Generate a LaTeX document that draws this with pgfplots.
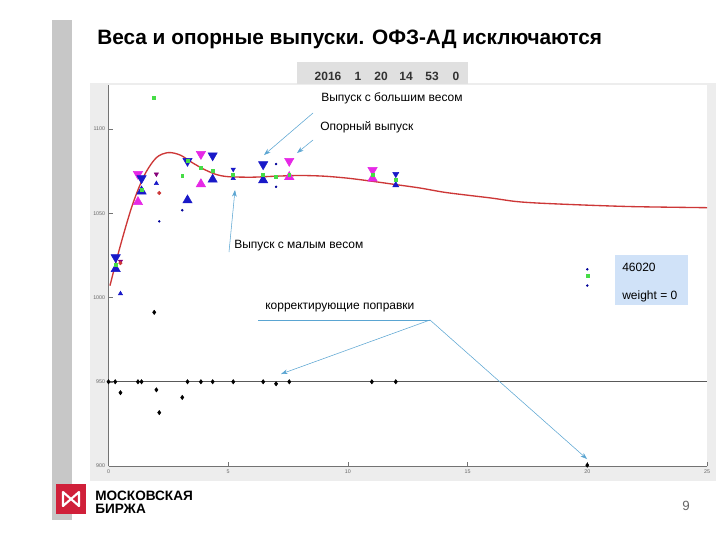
\documentclass[border=0pt]{standalone}
\usepackage{pgfplots}
\pgfplotsset{compat=1.18}
\usepackage{fontspec}
\setmainfont{Liberation Sans}
\usetikzlibrary{arrows.meta}
\definecolor{mblue}{RGB}{25,25,200}
\definecolor{mmag}{RGB}{230,40,230}
\definecolor{mgreen}{RGB}{70,220,70}
\definecolor{mred}{RGB}{205,55,55}
\definecolor{arrowc}{RGB}{90,165,210}
\definecolor{boxblue}{RGB}{208,226,248}
\definecolor{logored}{RGB}{208,32,58}
\begin{document}
\begin{tikzpicture}
\begin{scope}[x=0.75pt,y=-0.75pt]
\fill[white] (0,0) rectangle (720,540);
\fill[black!22] (52,20) rectangle (72,520);
\fill[black!7] (90,83) rectangle (716,481);
\fill[white] (108.5,85) rectangle (707,466);
\fill[black!12] (297,62) rectangle (468,84);
\node[inner sep=0, anchor=base west, font=\bfseries\fontsize{15.6}{17}\selectfont] at (97,44) {Веса и опорные выпуски. ОФЗ-АД исключаются};
\foreach \xx/\tt in {328/2016,358/1,381/20,406/14,432/53,456/0}
  \node[inner sep=0, anchor=base, font=\bfseries\fontsize{9}{10}\selectfont, text=black!80] at (\xx,80) {\tt};
% logo
\fill[logored] (56,484) rectangle (86,514);
\draw[white, line width=1.6pt, line join=round] (63,492) -- (63,506) -- (71,499) -- (79,506) -- (79,492) -- (71,499) -- cycle;
\node[inner sep=0, anchor=base west, font=\bfseries\fontsize{10.2}{11}\selectfont] at (95,500) {МОСКОВСКАЯ};
\node[inner sep=0, anchor=base west, font=\bfseries\fontsize{10.2}{11}\selectfont] at (95,513) {БИРЖА};
\node[inner sep=0, anchor=base, font=\fontsize{10}{12}\selectfont, text=black!60] at (686,510) {9};
\end{scope}
\begin{axis}[
  at={(81.375pt,-349.5pt)}, anchor=south west,
  scale only axis, width=448.875pt, height=285.75pt,
  xmin=0, xmax=25, ymin=900, ymax=1126.1,
  axis lines=left, axis line style={-, black!55},
  xtick={0,5,10,15,20,25}, ytick={900,950,1000,1050,1100},
  tick align=inside, major tick length=3pt,
  tick style={black!55},
  /pgf/number format/1000 sep={},
  /pgf/number format/assume math mode=true,
  tick label style={font=\fontsize{4}{5}\selectfont, text=black!60},
  xticklabel style={yshift=1pt},
  yticklabel style={xshift=1pt},
  clip=false,
]
\addplot[black!65, line width=0.8pt] coordinates {(0,950) (25,950)};
\addplot[mred, line width=1pt, smooth] coordinates {
(0.06,1007) (0.5,1031) (1,1055) (1.5,1072.6) (2,1083) (2.5,1086) (3,1084.5)
(3.5,1080) (4,1076) (4.5,1073) (5,1071.7) (6,1071.4) (7,1072) (8,1072.4)
(9,1072) (10,1070.8) (11,1069) (12,1067) (13,1065) (14,1062.5) (15,1060.7)
(16,1059) (17,1057) (18,1056) (20,1054.8) (22,1053.9) (25,1053.3)};
% big magenta down
\addplot[only marks, mark=triangle*, mark size=4pt, mmag, mark options={rotate=180}] coordinates {
(1.23,1073.2) (3.86,1085.1) (7.55,1081) (11.03,1075.6)};
% big magenta up
\addplot[only marks, mark=triangle*, mark size=4pt, mmag] coordinates {
(1.23,1056.7) (3.86,1067.3) (7.55,1071.6) (11.03,1070.7)};
% big blue down
\addplot[only marks, mark=triangle*, mark size=4pt, mblue, mark options={rotate=180}] coordinates {
(0.3,1023.8) (1.38,1070.7) (3.3,1081) (4.35,1084.3) (6.46,1079)};
% big blue up
\addplot[only marks, mark=triangle*, mark size=4pt, mblue] coordinates {
(0.3,1016.9) (1.38,1063) (3.3,1057.7) (4.35,1070) (6.46,1069.6)};
% medium blue
\addplot[only marks, mark=triangle*, mark size=2.6pt, mblue, mark options={rotate=180}] coordinates {(12.0,1073.2)};
\addplot[only marks, mark=triangle*, mark size=2.6pt, mblue] coordinates {(12.0,1066.7)};
% small blue down / up
\addplot[only marks, mark=triangle*, mark size=1.8pt, mblue, mark options={rotate=180}] coordinates {(5.21,1076)};
\addplot[only marks, mark=triangle*, mark size=1.8pt, mblue] coordinates {(5.21,1070.7) (2.0,1067.7) (0.5,1002.3)};
\addplot[only marks, mark=triangle*, mark size=1.8pt, purple!70!blue, mark options={rotate=180}] coordinates {(2.0,1073.2) (0.5,1021.5)};
% red dots
\addplot[only marks, mark=*, mark size=1.3pt, mred] coordinates {(2.12,1062) (0.5,1020.4)};
% green dots
\addplot[only marks, mark=square*, mark size=1.1pt, mgreen] coordinates {
(1.91,1118.3) (1.38,1064) (3.08,1072) (3.3,1081) (3.86,1077) (4.35,1075) (5.21,1073)
(6.46,1073) (7.0,1071.6) (7.55,1073) (11.03,1073) (12.0,1069.6) (0.3,1019.2) (20,1013.1)};
% small dark dots
\addplot[only marks, mark=*, mark size=0.7pt, black!40!blue] coordinates {
(2.12,1045.2) (3.08,1051.8) (7.0,1079.2) (7.0,1065.7) (20,1016.7) (20,1007.1)};
% corrections
\addplot[only marks, mark=diamond*, mark size=1.6pt, black] coordinates {
(0,950) (0.28,950) (0.5,943.5) (1.23,950) (1.38,950) (1.91,991.2) (2.0,945.2)
(2.12,931.7) (3.08,940.7) (3.3,950) (3.86,950) (4.35,950) (5.21,950) (6.46,950)
(7.0,948.8) (7.55,950) (11.0,950) (12.0,950) (20,900.5)};
\end{axis}
\begin{scope}[x=0.75pt,y=-0.75pt, font=\fontsize{9}{11}\selectfont]
\node[inner sep=0, anchor=base west] at (321,101) {Выпуск с большим весом};
\node[inner sep=0, anchor=base west] at (320,130) {Опорный выпуск};
\node[inner sep=0, anchor=base west] at (234,248) {Выпуск с малым весом};
\node[inner sep=0, anchor=base west] at (265,309) {корректирующие поправки};
\draw[arrowc, -{Stealth[length=5pt,width=3.5pt]}] (313,113) -- (264,155);
\draw[arrowc, -{Stealth[length=5pt,width=3.5pt]}] (313,140) -- (297,153);
\draw[arrowc, -{Stealth[length=5pt,width=3.5pt]}] (229,252) -- (235,190);
\draw[arrowc] (258,320) -- (430,320);
\draw[arrowc, -{Stealth[length=5pt,width=3.5pt]}] (430,320) -- (281,374);
\draw[arrowc, -{Stealth[length=5pt,width=3.5pt]}] (430,320) -- (587,459);
\fill[boxblue] (615,255) rectangle (688,305);
\node[inner sep=0, anchor=base west] at (622,271) {46020};
\node[inner sep=0, anchor=base west] at (622,299) {weight = 0};
\end{scope}
\end{tikzpicture}
\end{document}
